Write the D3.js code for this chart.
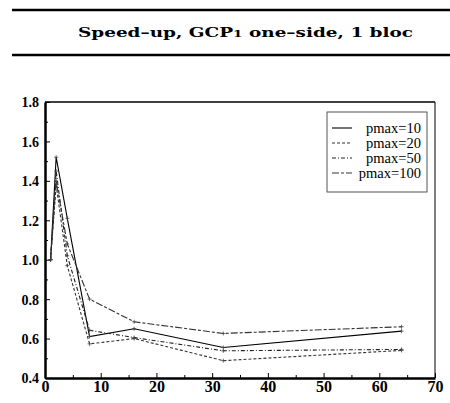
<!DOCTYPE html>
<html lang="en">
<head>
    <meta charset="UTF-8">
    <title>Speed-up</title>
    <script src="https://d3js.org/d3.v7.min.js"></script>
    <style>
        body { margin: 0; background: #fff; }
        svg { display: block; }
    </style>
</head>
<body>

<svg width="450" height="403"></svg>
<script>

    // processor counts and speed-up per pmax
    var procs = [1, 2, 4, 8, 16, 32, 64];
    var pmax10 = [1.0, 1.52, 1.21, 0.61, 0.65, 0.555, 0.638];
    var pmax20 = [1.0, 1.38, 0.97, 0.573, 0.60, 0.488, 0.54];
    var pmax50 = [1.0, 1.45, 1.02, 0.642, 0.605, 0.538, 0.545];
    var pmax100 = [1.0, 1.40, 1.08, 0.80, 0.685, 0.626, 0.66];
    var seriesNames = ["pmax=10", "pmax=20", "pmax=50", "pmax=100"];
    var xTicks = [0, 10, 20, 30, 40, 50, 60, 70];
    var yTicks = [0.4, 0.6, 0.8, 1.0, 1.2, 1.4, 1.6, 1.8];

    var series = [pmax10, pmax20, pmax50, pmax100];
    var dashes = [null, "3,2", "4,2,1,2", "7,2,3,2"];
    var colors = ["#000", "#333", "#222", "#333"];

    var svg = d3.select("svg");

    // title between two rules
    svg.append("line").attr("x1", 12).attr("x2", 450).attr("y1", 10).attr("y2", 10)
        .attr("stroke", "#000").attr("stroke-width", 2.5);
    svg.append("line").attr("x1", 12).attr("x2", 450).attr("y1", 55).attr("y2", 55)
        .attr("stroke", "#000").attr("stroke-width", 2.5);
    var title = svg.append("text")
        .attr("x", 78).attr("y", 37)
        .attr("textLength", 335).attr("lengthAdjust", "spacingAndGlyphs")
        .style("font-family", "'DejaVu Serif', serif")
        .style("font-weight", "bold")
        .style("font-size", "13.5px");
    title.append("tspan").text("Speed\u2013up, GCP");
    title.append("tspan").style("font-size", "10px").text("1");
    title.append("tspan").text(" one\u2013side, 1 bloc");

    // plot box (window.top is reserved, so different names)
    var pLeft = 45, pRight = 435, pTop = 102, pBottom = 378;

    var x = d3.scaleLinear().domain([0, 70]).range([pLeft, pRight]);
    var y = d3.scaleLinear().domain([0.4, 1.8]).range([pBottom, pTop]);

    // frame
    svg.append("line").attr("x1", pLeft).attr("x2", pRight).attr("y1", pTop).attr("y2", pTop)
        .attr("stroke", "#000").attr("stroke-width", 1.5);
    svg.append("line").attr("x1", pRight).attr("x2", pRight).attr("y1", pTop).attr("y2", pBottom)
        .attr("stroke", "#000").attr("stroke-width", 1);

    // minor ticks
    svg.append("g").attr("transform", "translate(0," + pBottom + ")")
        .call(d3.axisBottom(x).tickValues(d3.range(5, 70, 10)).tickSize(-3).tickFormat(""))
        .call(function (g) { g.select(".domain").remove(); });
    svg.append("g").attr("transform", "translate(" + pLeft + ",0)")
        .call(d3.axisLeft(y).tickValues(d3.range(0.5, 1.8, 0.2)).tickSize(-3).tickFormat(""))
        .call(function (g) { g.select(".domain").remove(); });

    // main axes
    var xAxis = svg.append("g").attr("transform", "translate(0," + pBottom + ")")
        .call(d3.axisBottom(x).tickValues(xTicks).tickSizeInner(-5).tickSizeOuter(0).tickPadding(3));
    xAxis.select(".domain").attr("stroke-width", 2.5);
    xAxis.selectAll("text")
        .attr("dy", "0")
        .attr("y", 14)
        .style("font-family", "'Liberation Serif', serif")
        .style("font-weight", "bold")
        .style("font-size", "16px")
        .attr("fill", "#000");

    var yAxis = svg.append("g").attr("transform", "translate(" + pLeft + ",0)")
        .call(d3.axisLeft(y).tickValues(yTicks).tickSizeInner(-5).tickSizeOuter(0)
            .tickFormat(d3.format(".1f")));
    yAxis.select(".domain").attr("stroke-width", 2.5);
    yAxis.selectAll("text")
        .attr("x", -6)
        .attr("dy", "0.35em")
        .style("font-family", "'Liberation Serif', serif")
        .style("font-weight", "bold")
        .style("font-size", "14px")
        .attr("fill", "#000");
    svg.selectAll(".tick line").attr("stroke", "#000").attr("stroke-width", 1);

    // lines
    var line = d3.line()
        .x(function (d, i) { return x(procs[i]); })
        .y(function (d) { return y(d); });

    series.forEach(function (vals, k) {
        svg.append("path")
            .datum(vals)
            .attr("d", line)
            .attr("fill", "none")
            .attr("stroke", colors[k])
            .attr("stroke-width", 1.1)
            .attr("stroke-dasharray", dashes[k]);

        // small plus markers
        svg.append("g").selectAll("path")
            .data(vals)
            .enter().append("path")
            .attr("d", "M-2,0H2M0,-2V2")
            .attr("transform", function (d, i) {
                return "translate(" + x(procs[i]) + "," + y(d) + ")";
            })
            .attr("fill", "none")
            .attr("stroke", "#444")
            .attr("stroke-width", 0.8);
    });

    // legend
    var lg = svg.append("g");
    lg.append("rect")
        .attr("x", 327).attr("y", 112).attr("width", 100).attr("height", 80)
        .attr("fill", "#fff").attr("stroke", "#555").attr("stroke-width", 1);
    seriesNames.forEach(function (name, k) {
        var cy = 128 + k * 15;
        lg.append("line")
            .attr("x1", 332).attr("x2", 352).attr("y1", cy).attr("y2", cy)
            .attr("stroke", colors[k]).attr("stroke-width", 1.1)
            .attr("stroke-dasharray", dashes[k]);
        lg.append("text")
            .attr("x", 421).attr("y", cy + 5)
            .attr("text-anchor", "end")
            .style("font-family", "'Liberation Serif', serif")
            .style("font-size", "14.5px")
            .text(name);
    });

</script>

</body>
</html>
